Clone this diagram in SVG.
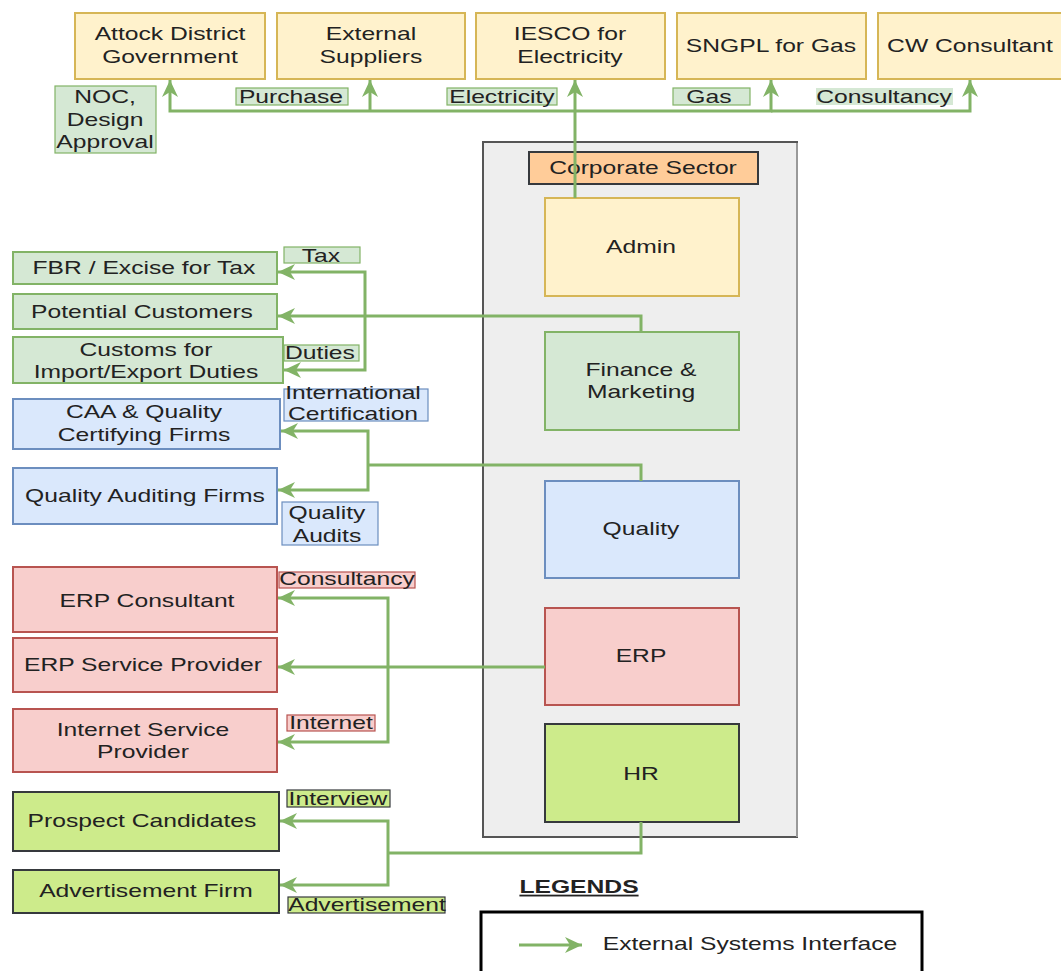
<svg xmlns="http://www.w3.org/2000/svg" width="1061" height="971" viewBox="0 0 1061 971">
<defs>
<style>
text{font-family:"Liberation Sans",Arial,Helvetica,sans-serif;font-size:18px;fill:#222;text-anchor:middle;transform-box:fill-box;transform-origin:center;transform:scaleX(1.37)}
.yel{fill:#fff2cc;stroke:#d6b656;stroke-width:2}
.grn{fill:#d5e8d4;stroke:#82b366;stroke-width:2}
.blu{fill:#dae8fc;stroke:#6c8ebf;stroke-width:2}
.red{fill:#f8cecc;stroke:#b85450;stroke-width:2}
.lim{fill:#cdeb8b;stroke:#36393d;stroke-width:2}
.lgr{fill:#d5e8d4;stroke:#82b366;stroke-width:1.2}
.lbl{fill:#dae8fc;stroke:#6c8ebf;stroke-width:1.2}
.lrd{fill:#f8cecc;stroke:#b85450;stroke-width:1.2}
.llm{fill:#cdeb8b;stroke:#36393d;stroke-width:1.2}
.e{fill:none;stroke:#82b366;stroke-width:3;marker-end:url(#ar)}
.en{fill:none;stroke:#82b366;stroke-width:3}
</style>
<marker id="ar" markerUnits="userSpaceOnUse" markerWidth="18" markerHeight="16" refX="17" refY="8" orient="auto">
<path d="M0,0 L17,8 L0,16 L5,8 Z" fill="#82b366"/>
</marker>
</defs>
<rect width="1061" height="971" fill="#ffffff"/>

<g id="corporate">
<rect x="483" y="142" width="314" height="695" fill="#eeeeee" stroke="#555" stroke-width="2"/>
<line x1="797" y1="143" x2="797" y2="837" stroke="#999" stroke-width="2"/>
</g>

<g id="top-nodes">
<g id="attock"><rect class="yel" x="75" y="13" width="190" height="66"/><text x="170" y="40">Attock District</text><text x="170" y="63">Government</text></g>
<g id="suppliers"><rect class="yel" x="277" y="13" width="188" height="66"/><text x="371" y="40">External</text><text x="371" y="63">Suppliers</text></g>
<g id="iesco"><rect class="yel" x="476" y="13" width="189" height="66"/><text x="570" y="40">IESCO for</text><text x="570" y="63">Electricity</text></g>
<g id="sngpl"><rect class="yel" x="677" y="13" width="189" height="66"/><text x="771" y="52">SNGPL for Gas</text></g>
<g id="cw"><rect class="yel" x="878" y="13" width="190" height="66"/><text x="970" y="52">CW Consultant</text></g>
</g>

<g id="corp-label"><rect x="529" y="152" width="229" height="32" fill="#ffcc99" stroke="#36393d" stroke-width="2"/><text x="643" y="174">Corporate Sector</text></g>
<g id="admin"><rect class="yel" x="545" y="198" width="194" height="98"/><text x="641" y="253">Admin</text></g>
<g id="finance"><rect class="grn" x="545" y="332" width="194" height="98"/><text x="641" y="376">Finance &amp;</text><text x="641" y="398">Marketing</text></g>
<g id="quality"><rect class="blu" x="545" y="481" width="194" height="97"/><text x="641" y="535">Quality</text></g>
<g id="erp"><rect class="red" x="545" y="608" width="194" height="97"/><text x="641" y="662">ERP</text></g>
<g id="hr"><rect class="lim" x="545" y="724" width="194" height="98"/><text x="641" y="780">HR</text></g>

<g id="left-nodes">
<g id="fbr"><rect class="grn" x="13" y="252" width="264" height="32"/><text x="144" y="274">FBR / Excise for Tax</text></g>
<g id="customers"><rect class="grn" x="13" y="294" width="264" height="35"/><text x="142" y="318">Potential Customers</text></g>
<g id="customs"><rect class="grn" x="13" y="337" width="270" height="46"/><text x="146" y="356">Customs for</text><text x="146" y="378">Import/Export Duties</text></g>
<g id="caa"><rect class="blu" x="13" y="399" width="267" height="50"/><text x="144" y="418">CAA &amp; Quality</text><text x="144" y="441">Certifying Firms</text></g>
<g id="qaf"><rect class="blu" x="13" y="468" width="264" height="56"/><text x="145" y="502">Quality Auditing Firms</text></g>
<g id="erpc"><rect class="red" x="13" y="567" width="264" height="65"/><text x="147" y="607">ERP Consultant</text></g>
<g id="erpsp"><rect class="red" x="13" y="638" width="264" height="54"/><text x="143" y="671">ERP Service Provider</text></g>
<g id="isp"><rect class="red" x="13" y="709" width="264" height="63"/><text x="143" y="736">Internet Service</text><text x="143" y="758">Provider</text></g>
<g id="prospect"><rect class="lim" x="13" y="792" width="266" height="59"/><text x="142" y="827">Prospect Candidates</text></g>
<g id="adfirm"><rect class="lim" x="13" y="870" width="266" height="43"/><text x="146" y="897">Advertisement Firm</text></g>
</g>

<g id="connectors">
<path class="e" d="M575,198 L575,80"/>
<path class="e" d="M575,111 L170,111 L170,80"/>
<path class="e" d="M370,111 L370,80"/>
<path class="e" d="M575,111 L771,111 L771,80"/>
<path class="e" d="M771,111 L970,111 L970,80"/>
<path class="e" d="M641,332 L641,316 L278,316"/>
<path class="e" d="M365,316 L365,272 L278,272"/>
<path class="e" d="M365,316 L365,370 L284,370"/>
<path class="en" d="M641,481 L641,465 L368,465"/>
<path class="e" d="M368,465 L368,431 L281,431"/>
<path class="e" d="M368,465 L368,490 L278,490"/>
<path class="e" d="M545,667 L278,667"/>
<path class="e" d="M388,667 L388,598 L278,598"/>
<path class="e" d="M388,667 L388,742 L278,742"/>
<path class="en" d="M641,822 L641,853 L388,853"/>
<path class="e" d="M388,853 L388,821 L280,821"/>
<path class="e" d="M388,853 L388,885 L280,885"/>
</g>

<g id="labels">
<g><rect class="lgr" x="55" y="86" width="101" height="67"/><text x="105" y="103">NOC,</text><text x="105" y="126">Design</text><text x="105" y="148">Approval</text></g>
<g><rect class="lgr" x="236" y="88" width="112" height="17"/><text x="291" y="103">Purchase</text></g>
<g><rect class="lgr" x="447" y="88" width="110" height="17"/><text x="502" y="103">Electricity</text></g>
<g><rect class="lgr" x="673" y="88" width="77" height="17"/><text x="709" y="103">Gas</text></g>
<g><rect x="816" y="88" width="137" height="17" fill="#d5e8d4"/><text x="884" y="103">Consultancy</text></g>
<g><rect class="lgr" x="284" y="247" width="76" height="16"/><text x="321" y="262">Tax</text></g>
<g><rect class="lgr" x="284" y="345" width="75" height="16"/><text x="320" y="359">Duties</text></g>
<g><rect class="lbl" x="284" y="389" width="144" height="32"/><text x="353" y="399">International</text><text x="353" y="420">Certification</text></g>
<g><rect class="lbl" x="282" y="502" width="96" height="43"/><text x="327" y="519">Quality</text><text x="327" y="542">Audits</text></g>
<g><rect class="lrd" x="279" y="572" width="136" height="16"/><text x="347" y="585">Consultancy</text></g>
<g><rect class="lrd" x="287" y="715" width="88" height="16"/><text x="331" y="729">Internet</text></g>
<g><rect class="llm" x="287" y="790" width="103" height="17"/><text x="338" y="805">Interview</text></g>
<g><rect class="llm" x="288" y="897" width="157" height="16"/><text x="367" y="911">Advertisement</text></g>
</g>

<g id="legend">
<text x="579" y="893" font-weight="bold" text-decoration="underline">LEGENDS</text>
<rect x="481" y="912" width="441" height="70" fill="none" stroke="#000" stroke-width="3"/>
<path class="e" d="M519,945 L582,945"/>
<text x="750" y="950">External Systems Interface</text>
</g>
</svg>
